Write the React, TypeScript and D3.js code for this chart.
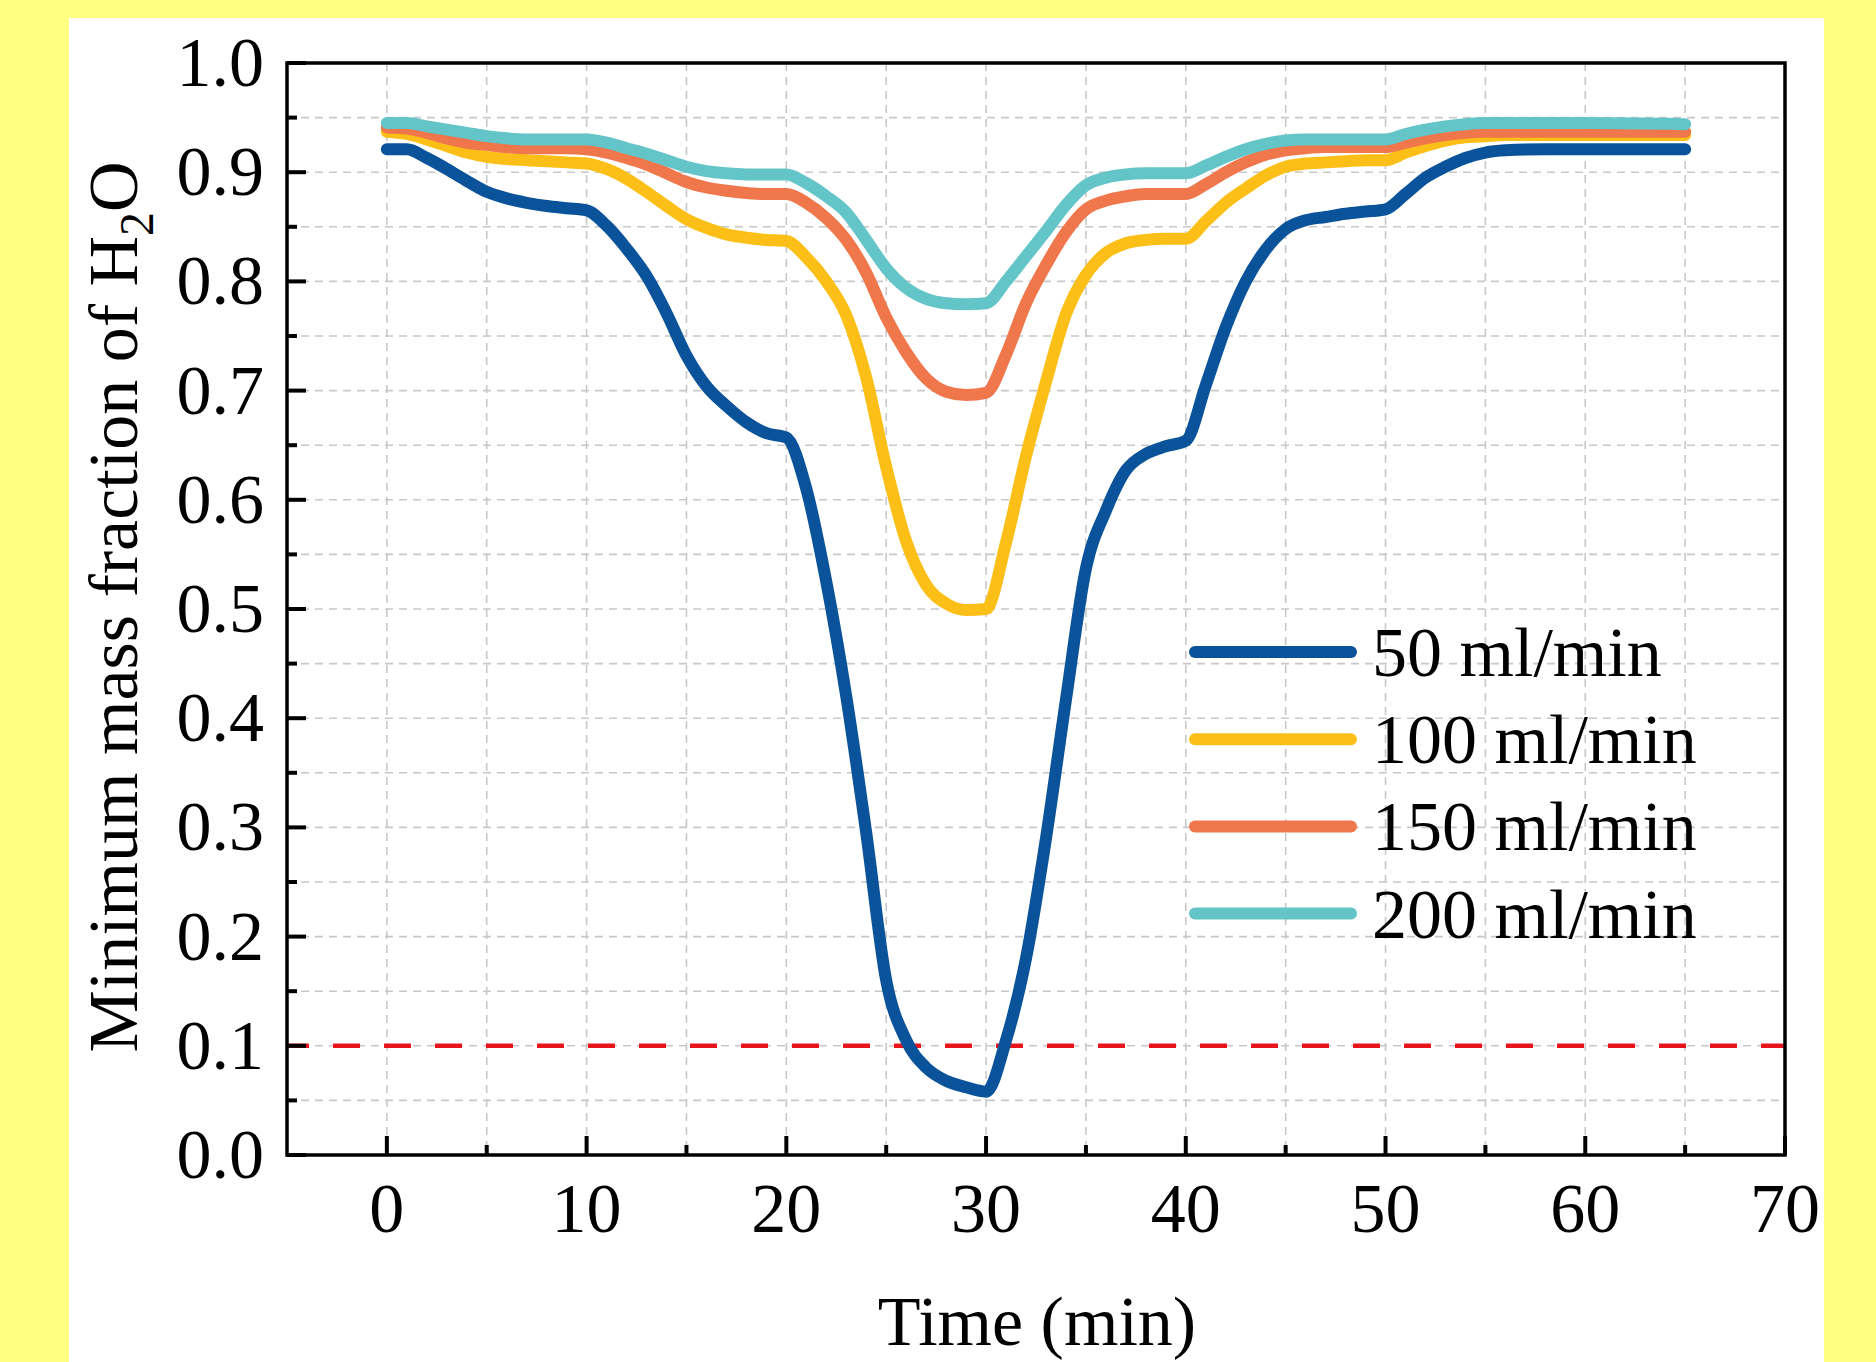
import React, { useEffect } from "react";
import * as d3 from "d3";

const times = [0,1,2,3,4,5,6,7,8,9,10,11,12,13,14,15,16,17,18,19,20,21,22,23,24,25,26,27,28,29,30,31,32,33,34,35,36,37,38,39,40,41,42,43,44,45,46,47,48,49,50,51,52,53,54,55,56,58,60,65];

const flow50 = [0.921,0.921,0.913,0.903,0.892,0.882,0.876,0.872,0.869,0.867,0.865,0.851,0.830,0.805,0.771,0.732,0.704,0.686,0.671,0.661,0.657,0.610,0.525,0.420,0.295,0.160,0.105,0.080,0.068,0.062,0.058,0.105,0.180,0.290,0.417,0.537,0.590,0.627,0.642,0.649,0.654,0.705,0.758,0.800,0.829,0.848,0.856,0.859,0.862,0.864,0.866,0.880,0.895,0.905,0.913,0.918,0.920,0.921,0.921,0.921];
const flow100 = [0.937,0.935,0.930,0.924,0.918,0.914,0.912,0.911,0.910,0.909,0.908,0.903,0.894,0.882,0.869,0.857,0.849,0.843,0.840,0.838,0.837,0.822,0.800,0.769,0.712,0.630,0.562,0.522,0.505,0.499,0.500,0.561,0.640,0.708,0.770,0.806,0.826,0.835,0.838,0.839,0.839,0.855,0.872,0.885,0.897,0.905,0.908,0.909,0.910,0.911,0.911,0.918,0.924,0.929,0.932,0.933,0.934,0.934,0.934,0.934];
const flow150 = [0.941,0.940,0.936,0.931,0.927,0.925,0.923,0.922,0.922,0.922,0.921,0.918,0.913,0.907,0.899,0.891,0.886,0.883,0.881,0.880,0.880,0.872,0.858,0.838,0.808,0.767,0.735,0.711,0.699,0.696,0.698,0.733,0.780,0.815,0.845,0.866,0.874,0.878,0.880,0.880,0.880,0.889,0.900,0.909,0.916,0.920,0.922,0.923,0.923,0.923,0.923,0.927,0.931,0.934,0.936,0.937,0.937,0.937,0.937,0.937];
const flow200 = [0.945,0.945,0.942,0.939,0.936,0.933,0.931,0.930,0.930,0.930,0.930,0.927,0.922,0.917,0.911,0.905,0.901,0.899,0.898,0.898,0.898,0.890,0.878,0.863,0.838,0.812,0.794,0.784,0.780,0.779,0.780,0.800,0.823,0.846,0.870,0.888,0.895,0.898,0.899,0.899,0.899,0.906,0.914,0.921,0.926,0.929,0.930,0.930,0.930,0.930,0.930,0.935,0.939,0.942,0.944,0.945,0.945,0.945,0.945,0.944];

const seriesNames = ["50 ml/min", "100 ml/min", "150 ml/min", "200 ml/min"];
const seriesColors = ["#0A539B", "#FBBF17", "#F0764B", "#63C5C8"];
const seriesValues = [flow50, flow100, flow150, flow200];

const xMajorTicks = [0, 10, 20, 30, 40, 50, 60, 70];
const xMinorTicks = [5, 15, 25, 35, 45, 55, 65];
const yMajorTicks = [0, 0.1, 0.2, 0.3, 0.4, 0.5, 0.6, 0.7, 0.8, 0.9, 1.0];
const yMinorTicks = [0.05, 0.15, 0.25, 0.35, 0.45, 0.55, 0.65, 0.75, 0.85, 0.95];
const xGrid = [0, 5, 10, 15, 20, 25, 30, 35, 40, 45, 50, 55, 60, 65];
const thresholdValue = 0.1;

const W = 1876;
const H = 1362;
const FONT = "'Liberation Serif', 'Times New Roman', serif";

export default function App() {
  useEffect(() => {
    document.body.style.margin = "0";
    document.body.style.overflow = "hidden";
  }, []);

  const x = d3.scaleLinear().domain([-5, 70]).range([287, 1785]);
  const y = d3.scaleLinear().domain([0, 1]).range([1155, 63]);

  const line = d3
    .line<number>()
    .x((_, i) => x(times[i]))
    .y((d) => y(d))
    .curve(d3.curveMonotoneX);

  const legendX0 = 1195;
  const legendX1 = 1351;
  const legendY0 = 652;
  const legendStep = 87.2;

  return (
    <svg width={W} height={H} style={{ display: "block" }} fontFamily={FONT}>
      <rect x={0} y={0} width={W} height={H} fill="#FFFF82" />
      <rect x={69} y={18} width={1824 - 69} height={H - 18} fill="#FFFFFF" />

      {/* grid */}
      <g stroke="#C8C8C8" strokeWidth={1.6} strokeDasharray="8 6">
        {xGrid.map((t) => (
          <line key={"gx" + t} x1={x(t)} x2={x(t)} y1={y(1)} y2={y(0)} />
        ))}
        {yMinorTicks.concat(yMajorTicks.slice(1, 10)).map((v) => (
          <line key={"gy" + v} x1={x(-5)} x2={x(70)} y1={y(v)} y2={y(v)} />
        ))}
      </g>

      {/* threshold */}
      <line
        x1={x(-5)}
        x2={x(70)}
        y1={y(thresholdValue)}
        y2={y(thresholdValue)}
        stroke="#E8141C"
        strokeWidth={4.5}
        strokeDasharray="27 24"
        strokeDashoffset={5}
      />

      {/* series */}
      <g fill="none" strokeLinecap="round" strokeLinejoin="round">
        {seriesValues.map((vals, i) => (
          <path key={seriesNames[i]} d={line(vals) || ""} stroke={seriesColors[i]} strokeWidth={12} />
        ))}
      </g>

      {/* frame */}
      <rect
        x={x(-5)}
        y={y(1)}
        width={x(70) - x(-5)}
        height={y(0) - y(1)}
        fill="none"
        stroke="#000"
        strokeWidth={3.5}
      />

      {/* ticks */}
      <g stroke="#000" strokeWidth={4}>
        {yMajorTicks.map((v) => (
          <line key={"ty" + v} x1={x(-5)} x2={x(-5) + 19} y1={y(v)} y2={y(v)} />
        ))}
        {yMinorTicks.map((v) => (
          <line key={"tym" + v} x1={x(-5)} x2={x(-5) + 10} y1={y(v)} y2={y(v)} />
        ))}
        {xMajorTicks.map((t) => (
          <line key={"tx" + t} x1={x(t)} x2={x(t)} y1={y(0)} y2={y(0) - 19} />
        ))}
        {xMinorTicks.map((t) => (
          <line key={"txm" + t} x1={x(t)} x2={x(t)} y1={y(0)} y2={y(0) - 10} />
        ))}
      </g>

      {/* tick labels */}
      <g fontSize={70} fill="#000">
        {yMajorTicks.map((v) => (
          <text key={"ly" + v} x={264} y={y(v) + 23} textAnchor="end">
            {v.toFixed(1)}
          </text>
        ))}
        {xMajorTicks.map((t) => (
          <text key={"lx" + t} x={x(t)} y={1232} textAnchor="middle">
            {t}
          </text>
        ))}
      </g>

      {/* axis titles */}
      <text x={1037} y={1345} fontSize={70} textAnchor="middle" fill="#000">
        Time (min)
      </text>
      <text transform="translate(137,607) rotate(-90)" fontSize={70} textAnchor="middle" fill="#000">
        Minimum mass fraction of H
        <tspan fontSize={48} dy={16}>2</tspan>
        <tspan dy={-16}>O</tspan>
      </text>

      {/* legend */}
      <g>
        {seriesNames.map((name, i) => {
          const ly = legendY0 + i * legendStep;
          return (
            <g key={"lg" + name}>
              <line
                x1={legendX0}
                x2={legendX1}
                y1={ly}
                y2={ly}
                stroke={seriesColors[i]}
                strokeWidth={12}
                strokeLinecap="round"
              />
              <text x={1372} y={ly + 24} fontSize={70} fill="#000">
                {name}
              </text>
            </g>
          );
        })}
      </g>
    </svg>
  );
}
